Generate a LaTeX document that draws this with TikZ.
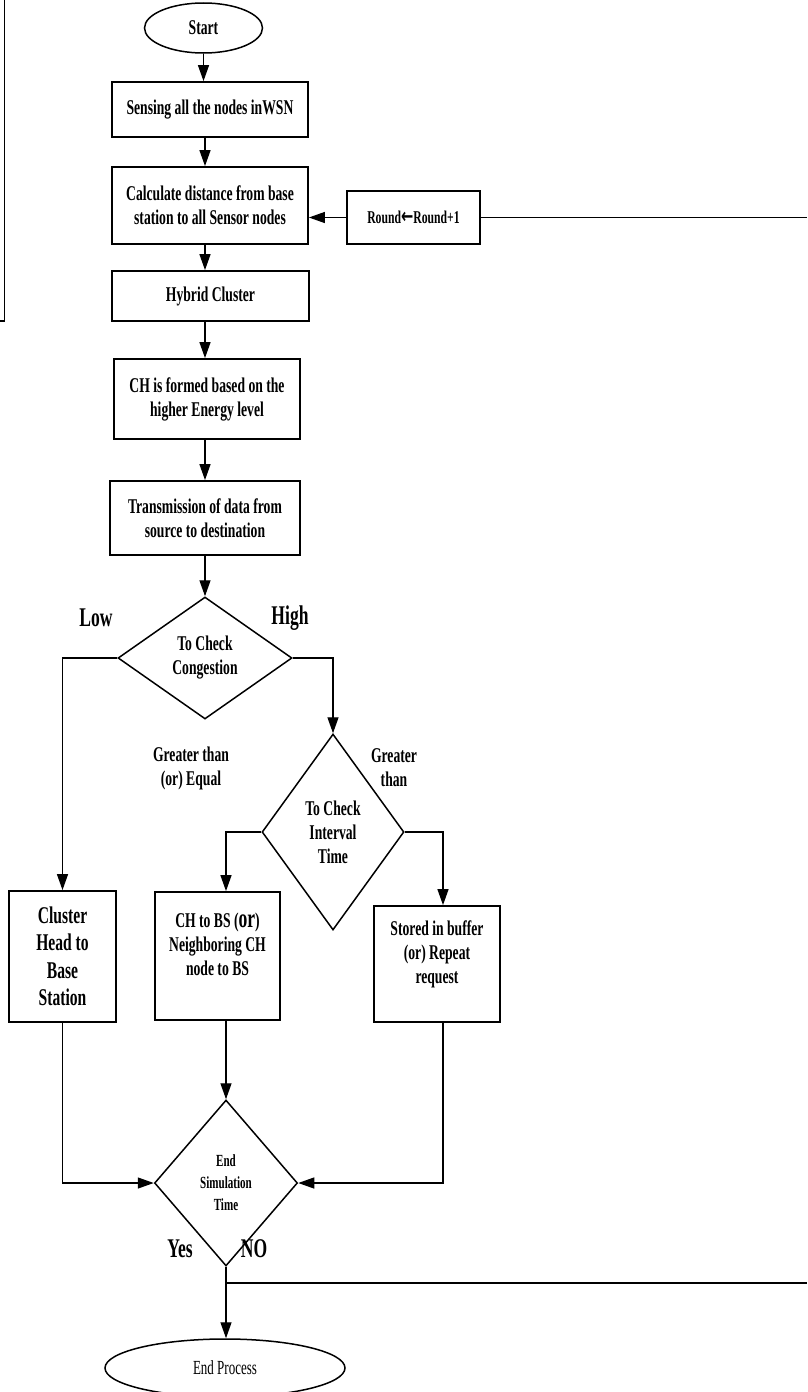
\documentclass[tikz,border=0pt]{standalone}
\usepackage{fontspec}
\setmainfont{Liberation Serif}[FakeStretch=0.65]
\newfontfamily\arrowfont{DejaVu Sans}[FakeStretch=0.7]
\usetikzlibrary{arrows.meta,shapes,positioning}

\begin{document}
\begin{tikzpicture}[x=1pt,y=-1pt,
  box/.style={draw,line width=1.8pt,align=center,inner sep=2pt,font=\bfseries\fontsize{21}{24}\selectfont},
  decide/.style={draw,diamond,line width=1.5pt,align=center,inner sep=0pt,aspect=1,font=\bfseries\fontsize{21}{24}\selectfont},
  term/.style={draw,ellipse,line width=1.5pt,inner sep=0pt},
  tag/.style={align=center,font=\bfseries\fontsize{21}{24}\selectfont},
  bigtag/.style={font=\bfseries\fontsize{27}{30}\selectfont},
  flow/.style={line width=1.3pt,-{Triangle[length=16pt,width=11pt]}},
  wire/.style={line width=1.3pt}]
\useasboundingbox (0,0) rectangle (807,1392);
% left edge piece
\draw[line width=1.3pt] (0,321) -- (4.5,321) -- (4.5,0);
% main column
\node[term,minimum width=118,minimum height=50,font=\bfseries\fontsize{21}{24}\selectfont] (start) at (203.5,28) {Start};
\node[box,minimum width=196,minimum height=55] (sense) at (210,109.5) {Sensing all the nodes inWSN};
\node[box,minimum width=196,minimum height=77] (calc) at (210,205.5) {Calculate distance from base\\ station to all Sensor nodes};
\node[box,minimum width=133,minimum height=53,font=\bfseries\fontsize{18}{22}\selectfont] (round) at (413.5,217.5) {Round{\arrowfont\fontsize{21}{22}\selectfont ←}Round+1};
\node[box,minimum width=197,minimum height=50] (hybrid) at (210.5,296) {Hybrid Cluster};
\node[box,minimum width=186,minimum height=80] (chform) at (207,399) {CH is formed based on the\\ higher Energy level};
\node[box,minimum width=190,minimum height=74] (trans) at (205,518) {Transmission of data from\\ source to destination};
\node[decide,minimum width=174,minimum height=122] (cong) at (205,658) {To Check\\ Congestion};
\node[decide,minimum width=142,minimum height=196] (interval) at (333,832) {To Check\\ Interval\\ Time};
% branch boxes
\node[box,minimum width=107,minimum height=131,font=\bfseries\fontsize{24}{27.5}\selectfont] (clhead) at (62.5,956.5) {Cluster\\ Head to\\ Base\\ Station};
\node[box,minimum width=125,minimum height=128] (chbs) at (217.5,956) {CH to BS ({\fontsize{27}{24}\selectfont or})\\ Neighboring CH\\ node to BS\\ \mbox{}};
\node[box,minimum width=126,minimum height=116] (store) at (437,964) {Stored in buffer\\ (or) Repeat\\ request\\ \mbox{}};
\node[decide,minimum width=143,minimum height=166,font=\bfseries\fontsize{17}{22}\selectfont] (endsim) at (226,1183) {End\\ Simulation\\ Time};
\node[term,minimum width=240,minimum height=58,font=\fontsize{20}{24}\selectfont] (endp) at (225,1368) {End Process};
% labels
\node[bigtag] (low) at (96,618) {Low};
\node[bigtag] (high) at (290,618) {High};
\node[tag] (geq) at (191,768) {Greater than\\ (or) Equal};
\node[tag] (gt) at (394,768) {Greater\\ than};
\node[bigtag] (yes) at (180,1249) {Yes};
\node[bigtag] (no) at (254,1249) {NO};
% helper points
\coordinate (spine) at (205,0);
\coordinate (sx) at (443,0);
\coordinate (edgeR) at (807,217.5);
\coordinate (noturn) at (226,1283);
\coordinate (edgeN) at (807,1283);
% connectors
\draw[flow] (start.south) -- (start.south |- sense.north);
\draw[flow] (spine |- sense.south) -- (spine |- calc.north);
\draw[flow] (spine |- calc.south) -- (spine |- hybrid.north);
\draw[flow] (spine |- hybrid.south) -- (spine |- chform.north);
\draw[flow] (spine |- chform.south) -- (spine |- trans.north);
\draw[flow] (cong.north |- trans.south) -- (cong.north);
\draw[flow] (round.west) -- (round.west -| calc.east);
\draw[wire] (round.east) -- (edgeR);
\draw[flow] (cong.west) -| (clhead.north);
\draw[flow] (cong.east) -| (interval.north);
\draw[flow] (interval.west) -| (endsim.north |- chbs.north);
\draw[flow] (interval.east) -| (sx |- store.north);
\draw[flow] (clhead.south) |- (endsim.west);
\draw[flow] (endsim.north |- chbs.south) -- (endsim.north);
\draw[flow] (sx |- store.south) |- (endsim.east);
\draw[flow] (endsim.south) -- (endsim.south |- endp.north);
\draw[wire] (noturn) -- (edgeN);
\end{tikzpicture}
\end{document}
